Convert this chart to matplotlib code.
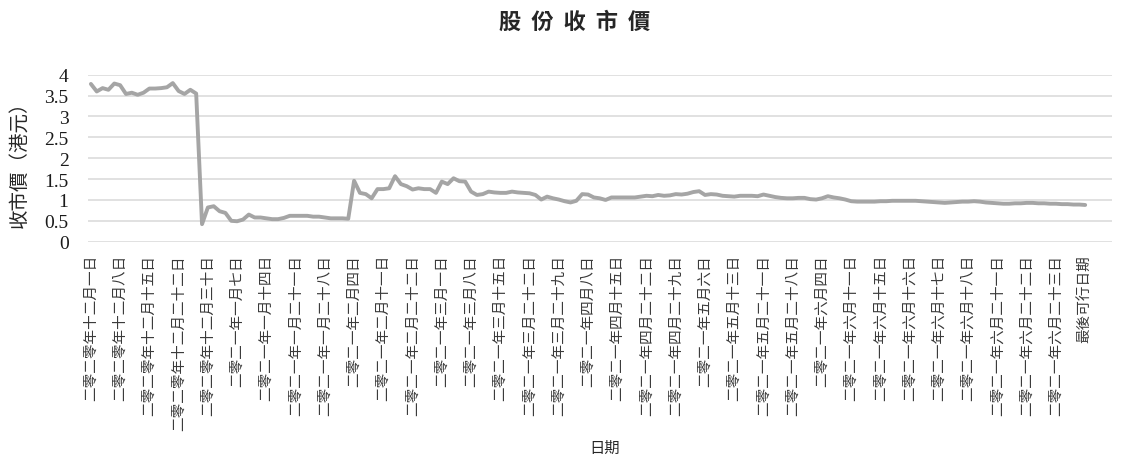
import matplotlib
matplotlib.use("Agg")
import matplotlib.pyplot as plt

# ---- data -----------------------------------------------------------------
tick_labels = [
    "二零二零年十二月一日", "二零二零年十二月八日", "二零二零年十二月十五日",
    "二零二零年十二月二十二日", "二零二零年十二月三十日", "二零二一年一月七日",
    "二零二一年一月十四日", "二零二一年一月二十一日", "二零二一年一月二十八日",
    "二零二一年二月四日", "二零二一年二月十一日", "二零二一年二月二十二日",
    "二零二一年三月一日", "二零二一年三月八日", "二零二一年三月十五日",
    "二零二一年三月二十二日", "二零二一年三月二十九日", "二零二一年四月八日",
    "二零二一年四月十五日", "二零二一年四月二十二日", "二零二一年四月二十九日",
    "二零二一年五月六日", "二零二一年五月十三日", "二零二一年五月二十一日",
    "二零二一年五月二十八日", "二零二一年六月四日", "二零二一年六月十一日",
    "二零二一年六月十五日", "二零二一年六月十六日", "二零二一年六月十七日",
    "二零二一年六月十八日", "二零二一年六月二十一日", "二零二一年六月二十二日",
    "二零二一年六月二十三日", "最後可行日期",
]

prices_dec = [3.78, 3.60, 3.68, 3.64, 3.79, 3.75, 3.54, 3.57, 3.52, 3.57,
              3.67, 3.67, 3.68, 3.70, 3.80, 3.61, 3.54, 3.64, 3.55]
prices_low = [0.42, 0.82, 0.85, 0.73, 0.69, 0.50, 0.49, 0.53, 0.65, 0.58,
              0.58, 0.56, 0.54, 0.54, 0.57, 0.62, 0.62, 0.62, 0.62, 0.60,
              0.60, 0.58, 0.56, 0.56, 0.56, 0.55]
prices_feb_mar = [1.46, 1.17, 1.14, 1.04, 1.26, 1.26, 1.28, 1.57, 1.38, 1.33,
                  1.25, 1.28, 1.26, 1.26, 1.17, 1.44, 1.38, 1.52, 1.45, 1.44,
                  1.20, 1.12, 1.14, 1.20, 1.18, 1.17, 1.17, 1.20, 1.18, 1.17,
                  1.16, 1.12, 1.01, 1.08, 1.04, 1.01, 0.97, 0.94, 0.98, 1.14,
                  1.13, 1.06, 1.04, 1.00, 1.06, 1.06, 1.06, 1.06, 1.06, 1.08,
                  1.10, 1.09, 1.12, 1.10, 1.11, 1.14, 1.13, 1.15, 1.19, 1.21]
prices_may_jun = [1.12, 1.14, 1.13, 1.10, 1.09, 1.08, 1.10, 1.10, 1.10, 1.09,
                  1.13, 1.10, 1.07, 1.05, 1.04, 1.04, 1.05, 1.05, 1.02, 1.01,
                  1.04, 1.09, 1.06, 1.04, 1.01, 0.97, 0.96, 0.96, 0.96, 0.96,
                  0.97, 0.97, 0.98, 0.98, 0.98, 0.98, 0.98, 0.97, 0.96, 0.95,
                  0.94, 0.93, 0.94, 0.95, 0.96, 0.96, 0.97, 0.96, 0.94, 0.93,
                  0.92, 0.91, 0.91, 0.92, 0.92, 0.93, 0.93, 0.92, 0.92, 0.91,
                  0.91, 0.90, 0.90, 0.89, 0.89, 0.88]

prices = prices_dec + prices_low + prices_feb_mar + prices_may_jun
label_step = 5

y_ticks = [0, 0.5, 1, 1.5, 2, 2.5, 3, 3.5, 4]
y_tick_labels = ["0", "0.5", "1", "1.5", "2", "2.5", "3", "3.5", "4"]

title = "股份收市價"
y_label = "收市價（港元）"
x_label = "日期"

# ---- figure ---------------------------------------------------------------
CJK = ["Noto Sans CJK TC", "DejaVu Sans"]
SERIF = ["Liberation Serif", "DejaVu Serif"]

fig = plt.figure(figsize=(11.25, 4.6), dpi=100)
ax = fig.add_axes([0.0782, 0.4724, 0.9098, 0.3629])

x = list(range(len(prices)))
ax.plot(x, prices, color="#a5a5a5", linewidth=2.8, solid_joinstyle="round",
        solid_capstyle="round", zorder=3)

ax.set_ylim(0, 4)
ax.set_xlim(-0.5, 174.5)
ax.set_yticks(y_ticks)
ax.set_yticklabels(y_tick_labels, fontfamily=SERIF, fontsize=14, color="#1a1a1a")
tick_pos = list(range(0, len(prices), label_step))[:len(tick_labels)]
ax.set_xticks(tick_pos)
ax.set_xticklabels(tick_labels, rotation=90, fontfamily=CJK, fontsize=10.5,
                   color="#3a3a3a", va="top", ha="center", fontweight="light")
ax.tick_params(axis="both", length=0)
ax.tick_params(axis="y", pad=14)
ax.tick_params(axis="x", pad=9)

ax.grid(axis="y", color="#d9d9d9", linewidth=1.1, zorder=0)
ax.set_axisbelow(True)
for s in ax.spines.values():
    s.set_visible(False)

fig.text(0.511, 0.952, "  ".join(title), ha="center", va="center",
         fontfamily=CJK, fontsize=16, fontweight="bold", color="#262626")
fig.text(0.017, 0.652, y_label, rotation=90, ha="center", va="center",
         fontfamily=CJK, fontsize=14, color="#262626", fontweight="light")
fig.text(0.537, 0.025, x_label, ha="center", va="center",
         fontfamily=CJK, fontsize=11, color="#262626", fontweight="light")

fig.savefig("out.png", dpi=100)
